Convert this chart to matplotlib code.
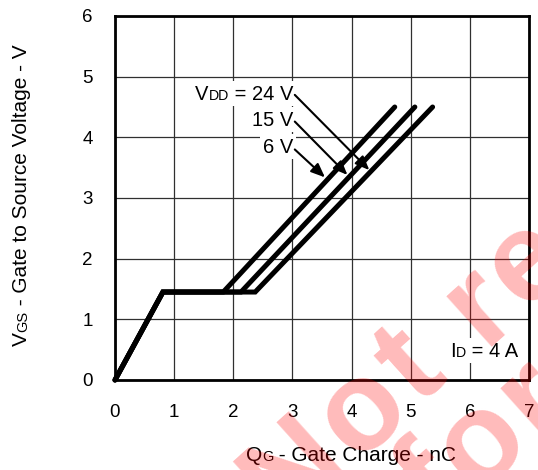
import math
import matplotlib
matplotlib.use("Agg")
import matplotlib.pyplot as plt
from matplotlib.transforms import IdentityTransform
from matplotlib.patches import Rectangle

plt.rcParams['font.family'] = ['Liberation Sans', 'DejaVu Sans']

# gate charge curves, one per VDD
vdd_labels = ["6 V", "15 V", "24 V"]
qg_knee = 0.81
vgs_plateau = 1.45
qg_plateau_end = [1.83, 2.13, 2.37]
qg_end = [4.73, 5.07, 5.37]
vgs_end = [4.5, 4.5, 4.5]

# arrows from the labels to the curves (data units)
arrow_start = [(3.04, 3.80), (3.04, 4.26), (3.04, 4.70)]
arrow_tip = [(3.55, 3.34), (3.93, 3.38), (4.30, 3.46)]

xticks = [0, 1, 2, 3, 4, 5, 6, 7]
yticks = [0, 1, 2, 3, 4, 5, 6]

watermark = ["Not recommended", "for new designs"]

W, H = 538, 470
fig = plt.figure(figsize=(W / 100, H / 100), dpi=100)
ax = fig.add_axes([115 / W, 1 - 380 / H, 414 / W, 364 / H])
ax.set_xlim(0, 7)
ax.set_ylim(0, 6)
ax.set_xticks(xticks)
ax.set_yticks(yticks)
ax.tick_params(length=0, labelsize=13.5)
ax.tick_params(axis='x', pad=17)
ax.tick_params(axis='y', pad=16)
ax.set_axisbelow(True)
ax.grid(True, color='#303030', lw=0.9)
for sp in ax.spines.values():
    sp.set_linewidth(2.0)
    sp.set_color('black')

for i in range(3):
    q = [0, qg_knee, qg_plateau_end[i], qg_end[i]]
    v = [0, vgs_plateau, vgs_plateau, vgs_end[i]]
    ax.plot(q, v, color='black', lw=3.6, solid_capstyle='round',
            solid_joinstyle='miter', zorder=3, clip_on=False)

for s, t in zip(arrow_start, arrow_tip):
    ax.annotate('', xy=t, xytext=s,
                arrowprops=dict(arrowstyle='-|>,head_length=0.6,head_width=0.25',
                                color='black', lw=1.5, mutation_scale=14,
                                shrinkA=0, shrinkB=0), zorder=4)

renderer = fig.canvas.get_renderer()


def text_width(s, size, **kw):
    t = fig.text(0, 0, s, fontsize=size, **kw)
    w = t.get_window_extent(renderer).width
    t.remove()
    return w


def rich(x, y, parts, size, ha='left', rot=0, box=False):
    # parts: (text, scale); x, y in image pixels, y = baseline from top
    widths = [text_width(s, size * k) for s, k in parts]
    total = sum(widths)
    shift = {'left': 0, 'center': total / 2, 'right': total}[ha]
    yd = H - y
    if box:
        ax.add_patch(Rectangle((x - shift - 3, yd - 6), total + 6, size * 1.39 * 0.72 + 10,
                               transform=IdentityTransform(), facecolor='white',
                               edgecolor='none', zorder=1.5, clip_on=False))
    off = -shift
    for (s, k), w in zip(parts, widths):
        pos = (x + off, yd) if rot == 0 else (x, yd + off)
        ax.text(pos[0], pos[1], s, fontsize=size * k, transform=IdentityTransform(),
                ha='left', va='baseline', rotation=rot, rotation_mode='anchor',
                clip_on=False, zorder=5)
        off += w


rich(293, 100, [("V", 1), ("DD", 0.7), (" = 24 V", 1)], 14.5, ha='right', box=True)
rich(293, 126, [(vdd_labels[1], 1)], 14.5, ha='right', box=True)
rich(293, 153, [(vdd_labels[0], 1)], 14.5, ha='right', box=True)
rich(518, 357, [("I", 1), ("D", 0.7), (" = 4 A", 1)], 14.5, ha='right', box=True)

rich(351, 461, [("Q", 1), ("G", 0.7), (" - Gate Charge - nC", 1)], 15, ha='center')
rich(27, 195, [("V", 1), ("GS", 0.7), (" - Gate to Source Voltage - V", 1)], 15,
     ha='center', rot=90)


def spaced(s, x, y, size, angle, track):
    # letter-spaced diagonal watermark, x, y = baseline start (pixels from top-left)
    a = math.radians(angle)
    dx, dy = math.cos(a), math.sin(a)
    px, py = x, H - y
    for ch in s:
        if ch == ' ':
            w = 0.278 * size * 100 / 72
        else:
            w = text_width(ch, size, fontweight='bold')
            fig.text(px / W, py / H, ch, fontsize=size, fontweight='bold',
                     color='red', alpha=0.27, rotation=angle, rotation_mode='anchor',
                     ha='left', va='baseline', zorder=10)
        px += (w + track) * dx
        py += (w + track) * dy


spaced(watermark[0], 284, 527, 92, 42, 5)
spaced(watermark[1], 440, 526, 92, 42, 5)

fig.savefig("out.png", dpi=100)
